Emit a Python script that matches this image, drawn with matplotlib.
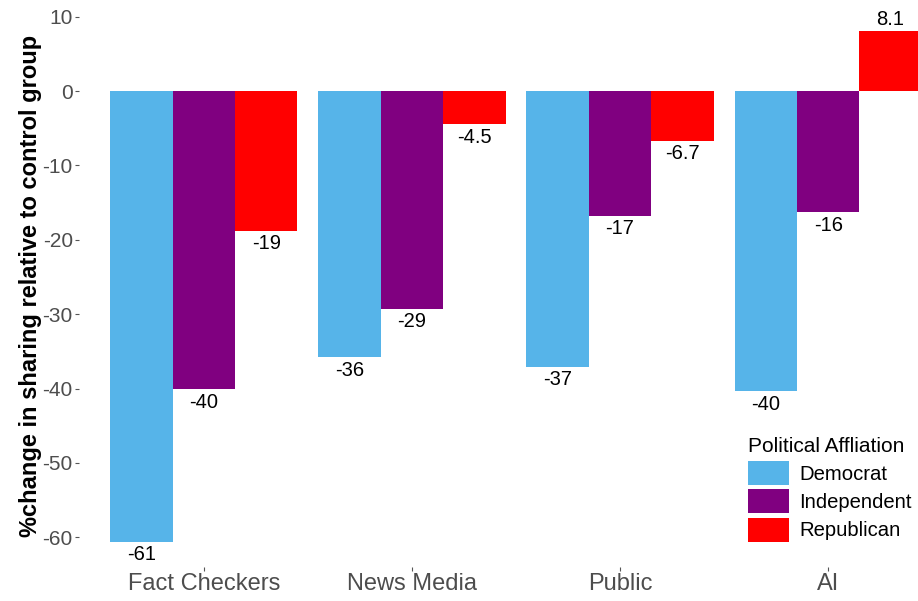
import matplotlib
matplotlib.use("Agg")
import matplotlib.pyplot as plt
import numpy as np
from matplotlib.patches import Patch

plt.rcParams['font.family'] = ['Liberation Sans', 'DejaVu Sans']

categories = ["Fact Checkers", "News Media", "Public", "AI"]
groups = ["Democrat", "Independent", "Republican"]
democrat = [-60.6, -35.8, -37.1, -40.4]
independent = [-40.1, -29.3, -16.8, -16.3]
republican = [-18.8, -4.5, -6.7, 8.1]
labels_dem = ["-61", "-36", "-37", "-40"]
labels_ind = ["-40", "-29", "-17", "-16"]
labels_rep = ["-19", "-4.5", "-6.7", "8.1"]
yticks = [10, 0, -10, -20, -30, -40, -50, -60]
colors = ["#56B4E9", "#800080", "#FF0000"]

W, H = 918, 601
fig = plt.figure(figsize=(W / 100, H / 100), dpi=100)
left_px, right_px, top_px, bottom_px = 79, 953, 5.5, 567
ax = fig.add_axes([left_px / W, (H - bottom_px) / H, (right_px - left_px) / W, (bottom_px - top_px) / H])

x = np.arange(len(categories))
bw = 0.3
series = [democrat, independent, republican]
labs = [labels_dem, labels_ind, labels_rep]
for i, (vals, lab, col, g) in enumerate(zip(series, labs, colors, groups)):
    pos = x + (i - 1) * bw
    ax.bar(pos, vals, width=bw, color=col, label=g)
    for p, v, t in zip(pos, vals, lab):
        if v < 0:
            ax.annotate(t, (p, v), xytext=(0, -2.5), textcoords="offset points",
                        ha="center", va="top", fontsize=14.5, color="black")
        else:
            ax.annotate(t, (p, v), xytext=(0, 1.5), textcoords="offset points",
                        ha="center", va="bottom", fontsize=14.5, color="black")

ax.set_xlim(-0.6, 3.6)
ax.set_ylim(-64.0, 11.5)
ax.set_xticks(x)
ax.set_xticklabels(categories, fontsize=17, color="#4D4D4D")
ax.set_yticks(yticks)
ax.set_yticklabels([str(t) for t in yticks], fontsize=15, color="#4D4D4D")
ax.tick_params(axis="both", length=3, width=0.8, color="#555555", pad=1.5)
for s in ax.spines.values():
    s.set_visible(False)
ax.set_ylabel("%change in sharing relative to control group", fontsize=17,
              fontweight="bold", color="black", labelpad=0)

handles = [Patch(facecolor=c, edgecolor="none") for c in colors]
leg = fig.legend(handles, groups, title="Political Affliation", loc="upper left",
                 bbox_to_anchor=(748 / W, 1 - 437.5 / H), frameon=False,
                 fontsize=14.6, title_fontsize=15, handlelength=2.02, handleheight=1.44,
                 handletextpad=0.49, labelspacing=0.22, borderpad=0, borderaxespad=0)
leg._legend_box.align = "left"

fig.savefig("out.png", dpi=100)
